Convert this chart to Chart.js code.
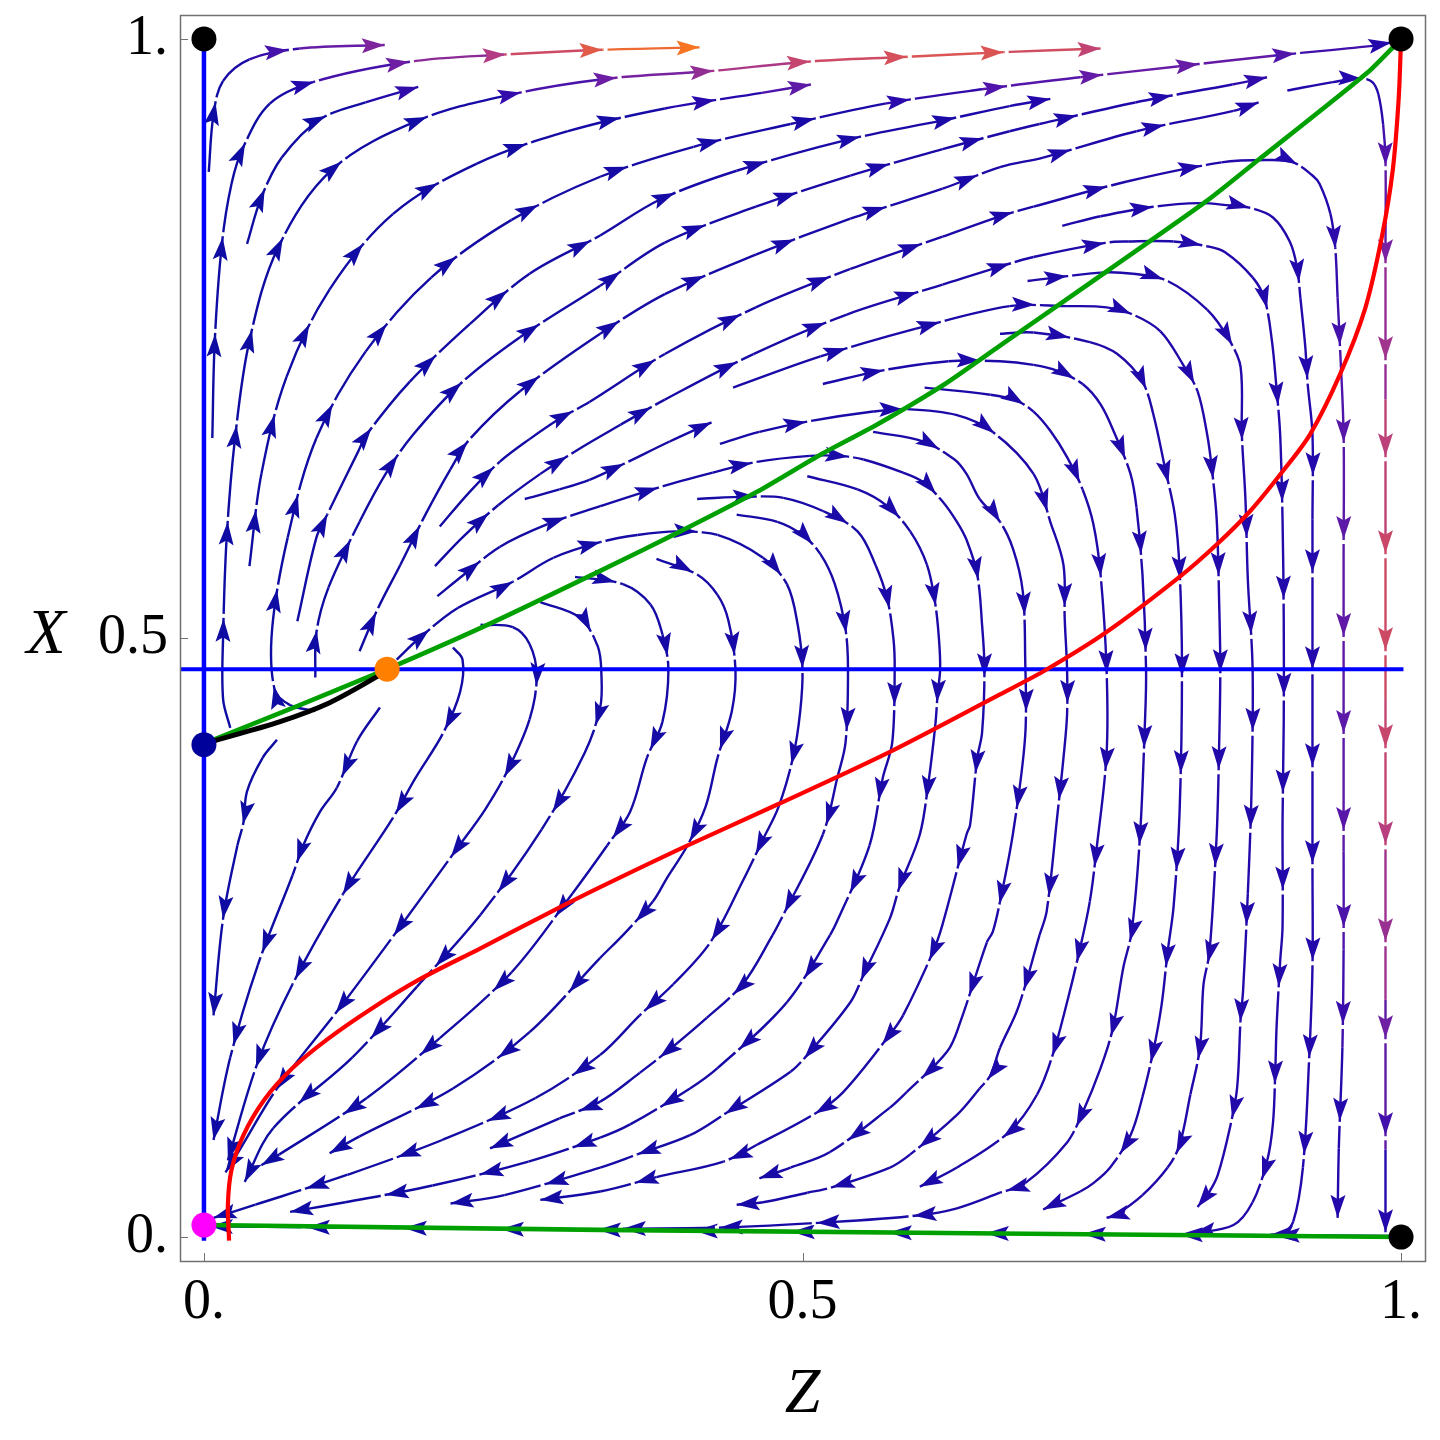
<!DOCTYPE html>
<html lang="en">
<head>
<meta charset="UTF-8">
<title>Phase portrait Z / X</title>
<script src="https://cdn.jsdelivr.net/npm/chart.js"></script>
<style>
    body { margin: 0; background: #ffffff; }
    .wrap { width: 1440px; height: 1440px; }
</style>
</head>
<body>
<div class="wrap"><canvas id="flow" width="1440" height="1440"></canvas></div>
<script>
// ticks on both axes
const tickValues = [0, 0.5, 1];
const tickLabels = ['0.', '0.5', '1.'];

// stream lines as [Z, X] pairs
// upper left: rising, then running right along the top
const streamsTop = [
    [[.004,.889],[.008,.937],[.016,.965],[.038,.983],[.080,.992],[.151,.995]],
    [[.036,.829],[.048,.868],[.065,.901],[.097,.933],[.135,.947],[.179,.960]],
    [[.007,.667],[.009,.747],[.015,.829],[.023,.879],[.033,.910],[.055,.946],[.091,.964],[.172,.981],[.251,.987],[.333,.991],[.414,.993]],
    [[.022,.425],[.016,.449],[.016,.501],[.019,.584],[.026,.667],[.038,.748],[.062,.826],[.107,.891],[.179,.932],[.258,.954],[.338,.967],[.421,.973],[.504,.981],[.584,.985],[.668,.989],[.749,.992]],
    [[.038,.560],[.048,.637],[.069,.718],[.105,.791],[.158,.854],[.228,.896],[.304,.923],[.385,.942],[.466,.955],[.507,.962]],
    [[.093,.439],[.072,.444],[.059,.457],[.057,.508],[.070,.584],[.094,.667],[.135,.739],[.190,.801],[.257,.849],[.331,.885],[.409,.910],[.490,.929],[.569,.946],[.650,.958],[.732,.968],[.813,.977],[.893,.986],[.974,.994],[.992,.997]],
    [[.078,.514],[.094,.584],[.103,.603],[.129,.656],[.136,.670],[.172,.714],[.222,.762],[.272,.804],[.331,.836],[.381,.866],[.445,.890],[.538,.916],[.617,.932],[.673,.944],[.707,.950]],
    [[.093,.467],[.094,.505],[.104,.542],[.130,.597],[.153,.639],[.175,.670],[.214,.712],[.264,.751],[.331,.794],[.385,.830],[.461,.860],[.540,.886],[.617,.908],[.673,.923],[.698,.929],[.778,.947],[.859,.962],[.888,.968]],
    [[.130,.489],[.145,.524],[.164,.561],[.185,.603],[.206,.641],[.222,.666],[.264,.706],[.331,.754],[.385,.787],[.461,.820],[.540,.850],[.617,.875],[.665,.893],[.701,.901],[.779,.923],[.860,.940],[.881,.947]],
    [[.268,.616],[.297,.624],[.322,.632],[.350,.645],[.389,.664],[.424,.680]]
];

// streams that bend down through the middle and then run off to the left
const streamsTurn = [
    [[.197,.593],[.222,.622],[.247,.647],[.272,.666],[.297,.683],[.322,.697],[.385,.737],[.461,.776],[.540,.808],[.617,.835],[.665,.852],[.693,.860],[.771,.881],[.850,.897],[.888,.899],[.910,.897],[.926,.886],[.932,.879],[.941,.854],[.945,.826],[.947,.784],[.949,.743],[.952,.670],[.952,.566],[.952,.474],[.952,.322],[.952,.240],[.951,.158],[.948,.074],[.947,.016]],
    [[.193,.560],[.216,.584],[.246,.611],[.281,.637],[.312,.657],[.348,.678],[.385,.699],[.459,.737],[.537,.770],[.617,.795],[.665,.810],[.693,.818],[.754,.830],[.772,.831],[.810,.831],[.838,.827],[.853,.822],[.876,.801],[.886,.783],[.892,.749],[.896,.708],[.899,.670],[.901,.599],[.902,.515],[.902,.430],[.901,.347],[.901,.259],[.899,.230],[.896,.175],[.895,.141],[.893,.095],[.888,.063],[.876,.029],[.860,.010],[.826,.003]],
    [[.717,.844],[.749,.852],[.793,.860],[.832,.863],[.857,.861],[.874,.859],[.893,.851],[.907,.831],[.913,.810],[.916,.783],[.920,.743],[.922,.712],[.926,.670],[.926,.599],[.926,.474],[.926,.308],[.926,.225],[.923,.144],[.918,.058],[.910,.013],[.901,.003],[.891,.002]],
    [[.905,.957],[.943,.964],[.966,.967],[.976,.964],[.981,.954],[.985,.929],[.987,.898],[.987,.825],[.987,.699],[.987,.574],[.987,.449],[.987,.323],[.987,.198],[.987,.073],[.987,.004]],
    [[.688,.798],[.749,.805],[.776,.804],[.805,.798],[.838,.774],[.857,.748],[.866,.726],[.867,.670],[.870,.616],[.872,.549],[.876,.474],[.875,.369],[.872,.287],[.868,.205],[.866,.183],[.863,.124],[.857,.091],[.847,.052],[.840,.038],[.830,.025]],
    [[.442,.709],[.515,.735],[.594,.758],[.673,.777],[.721,.777],[.754,.776],[.776,.770],[.799,.756],[.818,.728],[.830,.706],[.838,.670],[.842,.641],[.846,.599],[.848,.532],[.849,.474],[.848,.409],[.846,.336],[.840,.238],[.835,.211],[.832,.158],[.824,.119],[.815,.077],[.805,.058],[.784,.035],[.761,.018],[.754,.016]],
    [[.665,.754],[.693,.755],[.740,.747],[.763,.737],[.784,.714],[.793,.687],[.803,.641],[.811,.603],[.815,.557],[.817,.474],[.815,.355],[.810,.276],[.805,.238],[.800,.194],[.793,.155],[.784,.117],[.774,.085],[.757,.058],[.743,.045],[.732,.038],[.701,.023]],
    [[.517,.712],[.565,.723],[.622,.731],[.665,.731],[.693,.728],[.713,.723],[.734,.712],[.749,.695],[.761,.670],[.774,.637],[.779,.609],[.784,.553],[.787,.474],[.786,.428],[.782,.336],[.775,.255],[.768,.225],[.759,.173],[.749,.141],[.734,.104],[.721,.079],[.686,.045],[.665,.037],[.629,.024],[.596,.018],[.517,.012],[.434,.008],[.350,.007]],
    [[.602,.709],[.657,.703],[.679,.698],[.693,.689],[.707,.673],[.721,.651],[.734,.624],[.743,.595],[.749,.553],[.754,.474],[.754,.403],[.746,.327],[.740,.280],[.730,.233],[.721,.196],[.709,.152],[.696,.119],[.673,.088],[.629,.058],[.598,.042]],
    [[.431,.662],[.464,.672],[.506,.681],[.559,.689],[.587,.691],[.629,.686],[.659,.672],[.693,.637],[.707,.597],[.718,.561],[.719,.517],[.721,.474],[.721,.436],[.718,.400],[.713,.353],[.704,.272],[.698,.252],[.680,.191],[.665,.158],[.657,.135],[.648,.124],[.629,.102],[.590,.069],[.573,.058],[.523,.041],[.504,.037],[.467,.029],[.445,.027]],
    [[.559,.672],[.601,.664],[.627,.649],[.637,.637],[.648,.616],[.665,.597],[.676,.574],[.684,.539],[.686,.484],[.686,.418],[.676,.338],[.665,.280],[.659,.255],[.654,.246],[.632,.180],[.621,.155],[.587,.121],[.573,.108],[.523,.071],[.490,.058],[.464,.049]],
    [[.195,.535],[.216,.552],[.247,.576],[.287,.595],[.331,.610],[.381,.626],[.425,.638],[.462,.647],[.506,.652],[.531,.652],[.551,.649],[.584,.638],[.601,.630],[.617,.614],[.629,.597],[.637,.582],[.646,.553],[.650,.511],[.652,.474],[.650,.421],[.646,.400],[.640,.344],[.637,.336],[.617,.261],[.609,.238],[.584,.185],[.573,.169],[.534,.121],[.512,.104],[.462,.077],[.434,.063],[.378,.050],[.331,.038],[.281,.031]],
    [[.504,.635],[.546,.624],[.571,.610],[.590,.589],[.604,.561],[.611,.528],[.614,.499],[.615,.474],[.613,.455],[.611,.428],[.605,.378],[.598,.336],[.581,.292],[.573,.266],[.551,.219],[.540,.196],[.504,.152],[.490,.138],[.437,.104],[.406,.085],[.362,.069],[.331,.058],[.251,.035],[.206,.028]],
    [[.412,.616],[.454,.618],[.484,.617],[.517,.606],[.546,.589],[.561,.561],[.571,.532],[.576,.499],[.577,.474],[.575,.413],[.567,.383],[.556,.327],[.530,.266],[.523,.252],[.487,.196],[.429,.141],[.406,.124],[.356,.094],[.331,.083],[.271,.063],[.191,.043],[.118,.029],[.072,.021]],
    [[.445,.603],[.479,.597],[.500,.586],[.515,.570],[.527,.545],[.536,.507],[.538,.474],[.536,.413],[.529,.383],[.517,.336],[.484,.269],[.475,.252],[.450,.211],[.420,.183],[.387,.155],[.364,.137],[.331,.113],[.297,.099],[.239,.074]],
    [[.161,.482],[.180,.500],[.212,.525],[.258,.547],[.292,.567],[.331,.580],[.362,.586],[.395,.589],[.429,.586],[.467,.567],[.487,.545],[.496,.511],[.500,.474],[.498,.438],[.492,.400],[.480,.359],[.467,.332],[.450,.297],[.423,.246],[.392,.211],[.364,.185],[.331,.152],[.277,.116],[.199,.081],[.120,.052],[.043,.027],[.008,.016]],
    [[.378,.566],[.412,.553],[.429,.536],[.438,.515],[.444,.474],[.441,.439],[.429,.400],[.419,.359],[.404,.327],[.387,.300],[.375,.280],[.350,.252],[.331,.233],[.272,.171],[.208,.124],[.130,.084],[.105,.070]],
    [[.310,.551],[.350,.545],[.373,.528],[.383,.503],[.388,.474],[.383,.430],[.370,.400],[.356,.355],[.337,.327],[.308,.287],[.257,.221],[.197,.166],[.136,.116],[.063,.069],[.048,.060]],
    [[.281,.530],[.314,.517],[.329,.493],[.332,.470],[.331,.442],[.318,.404],[.282,.340],[.231,.269],[.178,.209],[.124,.150],[.058,.091],[.034,.046]],
    [[.231,.511],[.258,.509],[.272,.495],[.278,.468],[.272,.432],[.254,.390],[.235,.357],[.212,.325],[.161,.255],[.114,.192],[.061,.124],[.030,.073],[.018,.054]],
    [[.208,.492],[.216,.482],[.214,.455],[.200,.421],[.176,.382],[.158,.350],[.116,.286],[.074,.211],[.045,.146],[.020,.064]]
];

// lower left streams falling towards the origin, and the one along the bottom
const streamsLow = [
    [[.061,.415],[.049,.400],[.036,.372],[.033,.346],[.028,.327],[.016,.266],[.008,.185]],
    [[.147,.442],[.128,.414],[.111,.375],[.097,.355],[.083,.327],[.074,.302],[.045,.227],[.022,.150],[.008,.081]],
    [[.995,.001],[.665,.003],[.331,.006],[.005,.009]]
];

// overlaid curves
const greenCurve = [[.003,.413],[.080,.444],[.153,.474],[.239,.512],[.331,.556],[.398,.589],[.462,.622],[.515,.653],[.562,.678],[.619,.712],[.665,.744],[.757,.808],[.838,.865],[.882,.900],[.972,.972],[1,1]];
const greenBottom = [[0,.010],[.331,.006],[.665,.003],[1,0]];
const redCurve = [[.021,-.003],[.020,.027],[.023,.056],[.033,.085],[.050,.114],[.074,.141],[.103,.165],[.139,.190],[.180,.215],[.231,.241],[.287,.270],[.331,.292],[.400,.325],[.479,.361],[.573,.405],[.665,.453],[.701,.472],[.754,.505],[.815,.551],[.846,.578],[.874,.606],[.901,.639],[.924,.670],[.949,.720],[.970,.775],[.984,.835],[.993,.890],[.998,.950],[1,1]];
const blackCurve = [[0,.411],[.008,.414],[.063,.430],[.105,.446],[.145,.468],[.153,.474]];
const axisZ0 = [[0,-.003],[0,1]];
const thresholdLine = [[-.02,.474],[1.002,.474]];

// fixed points
const cornerPoints = [[0,1],[1,1],[1,0]];
const saddlePoint = [[0,.411]];
const innerPoint = [[.153,.474]];
const originPoint = [[0,.010]];

// colour by speed: blue for slow, through violet, magenta and red to orange
const ramp = [
    [0, [14, 12, 162]],
    [0.15, [38, 8, 172]],
    [0.3, [80, 20, 170]],
    [0.5, [122, 35, 160]],
    [0.7, [180, 60, 130]],
    [0.85, [215, 80, 90]],
    [1, [255, 125, 20]]
];

function clamp01(v) { return Math.min(Math.max(v, 0), 1); }

function speedTone(z, x) {
    const top = Math.pow(clamp01((x - 0.93) / 0.06), 1.6) * 4 * z * (1 - z);
    const side = Math.pow(clamp01((z - 0.9) / 0.09), 1.5) * 0.85 * 4 * x * (1 - x);
    const body = 0.14 * clamp01(z);
    return clamp01(Math.max(top, side, body));
}

function toneColor(t) {
    for (let i = 1; i < ramp.length; i++) {
        if (t <= ramp[i][0]) {
            const [t0, c0] = ramp[i - 1];
            const [t1, c1] = ramp[i];
            const f = (t - t0) / (t1 - t0);
            const c = c0.map((v, k) => Math.round(v + (c1[k] - v) * f));
            return `rgb(${c[0]},${c[1]},${c[2]})`;
        }
    }
    const c = ramp[ramp.length - 1][1];
    return `rgb(${c[0]},${c[1]},${c[2]})`;
}

const toPts = arr => arr.map(([z, x]) => ({ x: z, y: x }));

function streamSet(line) {
    return {
        data: toPts(line),
        isStream: true,
        showLine: true,
        borderWidth: 2.4,
        pointRadius: 0,
        tension: 0.35,
        borderColor: toneColor(0),
        segment: {
            borderColor: ctx => toneColor(speedTone(
                (ctx.p0.parsed.x + ctx.p1.parsed.x) / 2,
                (ctx.p0.parsed.y + ctx.p1.parsed.y) / 2))
        }
    };
}

function curveSet(line, color, width, tension) {
    return { data: toPts(line), showLine: true, borderColor: color, borderWidth: width, pointRadius: 0, tension: tension };
}

function dotSet(pts, color) {
    return { data: toPts(pts), showLine: false, pointRadius: 12.5, pointBackgroundColor: color, pointBorderWidth: 0 };
}

// first entries are drawn last, so dots and overlay curves sit above the streams
const datasets = [
    dotSet(cornerPoints, '#000000'),
    dotSet(saddlePoint, '#00009a'),
    dotSet(innerPoint, '#ff7f00'),
    dotSet(originPoint, '#ff00ff'),
    curveSet(blackCurve, '#000000', 5, 0.3),
    curveSet(redCurve, '#ff0000', 4.2, 0.3),
    curveSet(greenCurve, '#00a000', 4.6, 0.2),
    curveSet(greenBottom, '#00a000', 4.6, 0),
    curveSet(thresholdLine, '#0000ff', 4, 0),
    curveSet(axisZ0, '#0000ff', 4.5, 0),
    ...streamsTop.map(streamSet),
    ...streamsTurn.map(streamSet),
    ...streamsLow.map(streamSet)
];

// sample the drawn bezier path of a stream
function pathOf(els) {
    const out = [];
    for (let i = 0; i < els.length; i++) {
        const p = els[i];
        if (i === 0) { out.push([p.x, p.y]); continue; }
        const q = els[i - 1];
        const c1x = q.cp2x ?? q.x, c1y = q.cp2y ?? q.y;
        const c2x = p.cp1x ?? p.x, c2y = p.cp1y ?? p.y;
        for (let k = 1; k <= 8; k++) {
            const t = k / 8, u = 1 - t;
            out.push([
                u * u * u * q.x + 3 * u * u * t * c1x + 3 * u * t * t * c2x + t * t * t * p.x,
                u * u * u * q.y + 3 * u * u * t * c1y + 3 * u * t * t * c2y + t * t * t * p.y
            ]);
        }
    }
    return out;
}

function pointAt(path, cum, s) {
    let j = 1;
    while (j < cum.length - 1 && cum[j] < s) j++;
    const a = path[j - 1], b = path[j];
    const len = cum[j] - cum[j - 1] || 1;
    const f = Math.min(Math.max((s - cum[j - 1]) / len, 0), 1);
    return { x: a[0] + (b[0] - a[0]) * f, y: a[1] + (b[1] - a[1]) * f, ang: Math.atan2(b[1] - a[1], b[0] - a[0]) };
}

const flowDecor = {
    id: 'flowDecor',
    afterDatasetDraw(chart, args) {
        const ds = chart.data.datasets[args.index];
        if (!ds.isStream) return;
        const path = pathOf(args.meta.data);
        const cum = [0];
        for (let i = 1; i < path.length; i++) {
            cum.push(cum[i - 1] + Math.hypot(path[i][0] - path[i - 1][0], path[i][1] - path[i - 1][1]));
        }
        const total = cum[cum.length - 1];
        const ctx = chart.ctx;
        const sx = chart.scales.x, sy = chart.scales.y;
        ctx.save();
        for (let s = total, k = 0; s > 25; s -= 97, k++) {
            if (k > 0) {
                // little gap after each head, as in the original
                const g0 = pointAt(path, cum, s + 1), g1 = pointAt(path, cum, s + 5);
                ctx.strokeStyle = '#ffffff';
                ctx.lineWidth = 4;
                ctx.beginPath(); ctx.moveTo(g0.x, g0.y); ctx.lineTo(g1.x, g1.y); ctx.stroke();
            }
            const p = pointAt(path, cum, s);
            const t = speedTone(sx.getValueForPixel(p.x), sy.getValueForPixel(p.y));
            ctx.save();
            ctx.translate(p.x, p.y);
            ctx.rotate(p.ang);
            ctx.beginPath();
            ctx.moveTo(0, 0);
            ctx.lineTo(-23, -7.5);
            ctx.lineTo(-18.5, 0);
            ctx.lineTo(-23, 7.5);
            ctx.closePath();
            ctx.fillStyle = toneColor(t);
            ctx.fill();
            ctx.restore();
        }
        ctx.restore();
    },
    afterDraw(chart) {
        const { ctx, chartArea: a } = chart;
        const sx = chart.scales.x, sy = chart.scales.y;
        ctx.save();
        ctx.strokeStyle = '#707070';
        ctx.lineWidth = 1.5;
        ctx.strokeRect(a.left + 0.5, a.top + 0.5, a.right - a.left, a.bottom - a.top);
        ctx.lineWidth = 1;
        tickValues.forEach(v => {
            const px = Math.round(sx.getPixelForValue(v)) + 0.5;
            const py = Math.round(sy.getPixelForValue(v)) + 0.5;
            ctx.beginPath(); ctx.moveTo(px, a.bottom); ctx.lineTo(px, a.bottom - 8); ctx.stroke();
            ctx.beginPath(); ctx.moveTo(a.left, py); ctx.lineTo(a.left + 8, py); ctx.stroke();
        });
        ctx.fillStyle = '#000000';
        ctx.font = 'italic 64px "Liberation Serif", "DejaVu Serif", serif';
        ctx.textAlign = 'center';
        ctx.textBaseline = 'middle';
        ctx.fillText('Z', sx.getPixelForValue(0.5), 1395);
        ctx.fillText('X', 46, sy.getPixelForValue(0.5) - 2);
        ctx.restore();
    }
};

const tickFont = { family: '"Liberation Serif", "DejaVu Serif", serif', size: 56 };

new Chart(document.getElementById('flow'), {
    type: 'scatter',
    data: { datasets: datasets },
    options: {
        responsive: false,
        animation: false,
        devicePixelRatio: 1,
        events: [],
        layout: { padding: { top: 15, right: 15, left: 0, bottom: 0 } },
        plugins: { legend: { display: false }, tooltip: { enabled: false } },
        scales: {
            x: {
                type: 'linear',
                min: -0.02,
                max: 1.02,
                afterBuildTicks: s => { s.ticks = tickValues.map(v => ({ value: v })); },
                afterFit: s => { s.height = 179; s.paddingLeft = 0; s.paddingRight = 0; },
                grid: { display: false, drawTicks: false },
                border: { display: false },
                ticks: {
                    autoSkip: false,
                    maxRotation: 0,
                    padding: 9,
                    color: '#000000',
                    font: tickFont,
                    callback: v => tickLabels[tickValues.indexOf(v)]
                }
            },
            y: {
                type: 'linear',
                min: -0.02,
                max: 1.02,
                afterBuildTicks: s => { s.ticks = tickValues.map(v => ({ value: v })); },
                afterFit: s => { s.width = 180; s.paddingTop = 0; s.paddingBottom = 0; },
                grid: { display: false, drawTicks: false },
                border: { display: false },
                ticks: {
                    autoSkip: false,
                    padding: 12,
                    color: '#000000',
                    font: tickFont,
                    callback: v => tickLabels[tickValues.indexOf(v)]
                }
            }
        }
    },
    plugins: [flowDecor]
});
</script>
</body>
</html>
